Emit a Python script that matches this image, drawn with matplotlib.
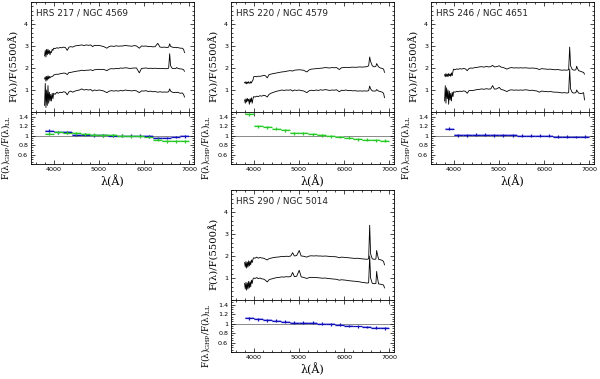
import matplotlib
matplotlib.use("Agg")
import matplotlib.pyplot as plt
from matplotlib.ticker import MultipleLocator, FixedLocator
import numpy as np

plt.rcParams['mathtext.fontset'] = 'dejavuserif'

# ---------------- data ----------------
titles = ["HRS 217 / NGC 4569", "HRS 220 / NGC 4579", "HRS 246 / NGC 4651", "HRS 290 / NGC 5014"]

wave = [3800, 3815, 3830, 3845, 3860, 3875, 3890, 3905, 3920, 3935, 3950, 3968, 3985, 4000,
        4030, 4070, 4100, 4140, 4180, 4220, 4260, 4300, 4340, 4380, 4420, 4470, 4520, 4570,
        4620, 4670, 4720, 4770, 4820, 4861, 4900, 4950, 5007, 5050, 5100, 5175, 5230, 5280,
        5330, 5380, 5430, 5480, 5530, 5580, 5630, 5680, 5730, 5780, 5830, 5893, 5940, 5990,
        6040, 6090, 6140, 6190, 6240, 6300, 6350, 6400, 6450, 6500, 6540, 6563, 6583, 6620,
        6660, 6700, 6717, 6731, 6760, 6800, 6840, 6870, 6890]

# HRS 217 spectra (offsets included)
p1_top = [2.55, 2.8, 2.5, 2.85, 2.6, 2.85, 2.65, 2.8, 2.6, 2.75, 2.7, 2.85, 2.8, 2.9,
          2.88, 2.92, 2.9, 2.93, 2.92, 2.95, 2.93, 2.8, 2.95, 2.97, 2.95, 3.0, 3.02, 3.03,
          3.05, 3.02, 3.05, 3.03, 3.05, 2.97, 3.03, 3.02, 3.03, 3.0, 2.98, 2.9, 2.98, 3.0,
          2.98, 3.01, 2.99, 3.0, 3.0, 3.03, 3.01, 3.0, 2.99, 3.02, 3.0, 2.9, 3.0, 2.99,
          3.0, 2.97, 2.98, 2.96, 2.97, 3.12, 2.95, 2.94, 2.95, 2.93, 2.95, 3.1, 2.98, 2.95,
          2.93, 2.94, 2.92, 2.93, 2.92, 2.9, 2.9, 2.85, 2.7]
p1_mid = [1.5, 1.6, 1.4, 1.62, 1.45, 1.65, 1.5, 1.62, 1.55, 1.6, 1.6, 1.62, 1.63, 1.68,
          1.7, 1.72, 1.71, 1.74, 1.75, 1.77, 1.76, 1.7, 1.8, 1.8, 1.82, 1.84, 1.86, 1.87,
          1.9, 1.88, 1.9, 1.9, 1.92, 1.88, 1.92, 1.93, 1.94, 1.93, 1.94, 1.88, 1.95, 1.97,
          1.96, 1.98, 1.97, 2.0, 1.99, 2.01, 2.0, 1.98, 1.99, 2.0, 2.0, 1.78, 1.98, 1.99,
          2.0, 1.98, 1.99, 1.98, 1.99, 1.98, 1.97, 1.98, 1.97, 1.97, 1.99, 2.65, 2.1, 1.98,
          1.97, 1.98, 2.02, 2.0, 1.97, 1.96, 1.95, 1.92, 1.85]
p1_bot = [0.3, 1.3, 0.2, 1.0, 0.3, 1.2, 0.4, 0.9, 0.5, 0.8, 0.5, 0.85, 0.6, 0.85,
          0.8, 0.9, 0.85, 0.9, 0.88, 0.92, 0.9, 0.78, 0.92, 0.95, 0.9, 0.95, 0.98, 1.0,
          1.05, 1.0, 1.02, 1.0, 1.02, 0.95, 1.0, 0.98, 1.0, 0.98, 0.96, 0.88, 0.95, 0.97,
          0.95, 0.97, 0.95, 0.98, 0.96, 1.0, 0.98, 0.97, 0.96, 0.98, 0.96, 0.88, 0.96, 0.95,
          0.97, 0.93, 0.95, 0.92, 0.93, 0.9, 0.92, 0.9, 0.91, 0.9, 0.92, 1.05, 0.95, 0.9,
          0.88, 0.9, 0.88, 0.9, 0.88, 0.85, 0.87, 0.8, 0.68]

# HRS 220 spectra
p2_top = [1.35, 1.3, 1.38, 1.28, 1.36, 1.3, 1.38, 1.32, 1.3, 1.38, 1.32, 1.4, 1.45, 1.6,
          1.62, 1.6, 1.63, 1.62, 1.64, 1.66, 1.65, 1.55, 1.7, 1.72, 1.74, 1.76, 1.78, 1.8,
          1.82, 1.83, 1.85, 1.87, 1.88, 1.86, 1.9, 1.91, 1.92, 1.91, 1.9, 1.82, 1.92, 1.95,
          1.96, 1.97, 1.98, 1.99, 2.0, 2.02, 2.01, 2.0, 2.02, 2.01, 2.02, 1.93, 2.01, 2.02,
          2.03, 2.02, 2.03, 2.04, 2.03, 2.04, 2.05, 2.04, 2.05, 2.06, 2.1, 2.5, 2.3, 2.1,
          2.05, 2.08, 2.2, 2.15, 2.05, 2.0, 1.98, 1.95, 1.8]
p2_bot = [0.55, 0.4, 0.6, 0.45, 0.62, 0.5, 0.58, 0.35, 0.6, 0.45, 0.65, 0.4, 0.6, 0.7,
          0.68, 0.72, 0.7, 0.74, 0.72, 0.76, 0.74, 0.68, 0.8, 0.85, 0.88, 0.92, 0.95, 0.97,
          1.0, 0.98, 1.0, 0.99, 1.01, 0.95, 1.0, 0.98, 1.0, 0.97, 0.96, 0.88, 0.97, 0.99,
          0.97, 1.0, 0.98, 1.01, 0.99, 1.02, 1.0, 0.98, 1.0, 0.99, 1.01, 0.92, 0.99, 0.98,
          1.0, 0.97, 0.98, 0.96, 0.97, 0.95, 0.96, 0.95, 0.96, 0.95, 0.97, 1.18, 1.05, 0.96,
          0.95, 0.96, 1.02, 1.0, 0.95, 0.93, 0.9, 0.85, 0.65]

# HRS 246 spectra
p3_top = [1.7, 1.6, 1.75, 1.62, 1.72, 1.6, 1.75, 1.65, 1.72, 1.62, 1.78, 1.65, 1.85, 1.95,
          1.92, 1.96, 1.94, 1.97, 1.95, 1.98, 1.96, 1.88, 1.98, 2.0, 1.99, 2.02, 2.03, 2.05,
          2.06, 2.04, 2.07, 2.05, 2.06, 2.12, 2.05, 2.06, 2.1, 2.04, 2.02, 1.95, 2.0, 2.02,
          2.0, 2.01, 2.0, 2.01, 2.0, 2.01, 2.0, 1.99, 2.0, 1.99, 1.98, 1.93, 1.97, 1.96,
          1.95, 1.94, 1.95, 1.93, 1.92, 1.93, 1.91, 1.9, 1.91, 1.9, 1.92, 2.95, 2.1, 1.93,
          1.9, 1.92, 2.08, 2.0, 1.88, 1.85, 1.82, 1.8, 1.72]
p3_bot = [0.5, 1.2, 0.4, 1.1, 0.6, 1.0, 0.35, 0.95, 0.55, 0.85, 0.5, 0.9, 0.7, 0.92,
          0.9, 0.94, 0.92, 0.95, 0.93, 0.96, 0.94, 0.85, 0.97, 0.98, 0.97, 1.0, 1.02, 1.03,
          1.05, 1.03, 1.06, 1.04, 1.05, 1.2, 1.04, 1.05, 1.12, 1.02, 1.0, 0.93, 0.99, 1.01,
          0.99, 1.0, 0.99, 1.0, 0.99, 1.01, 1.0, 0.98, 0.99, 0.97, 0.96, 0.9, 0.95, 0.94,
          0.93, 0.92, 0.93, 0.91, 0.9, 0.9, 0.88, 0.87, 0.88, 0.86, 0.88, 1.95, 1.05, 0.88,
          0.86, 0.88, 1.0, 0.95, 0.86, 0.84, 0.85, 0.88, 0.55]

# HRS 290 spectra
p4_top = [1.7, 1.5, 1.75, 1.45, 1.72, 1.5, 1.78, 1.55, 1.75, 1.6, 1.82, 1.7, 1.85, 1.92,
          1.9, 1.95, 1.9, 1.93, 1.91, 1.9, 1.86, 1.82, 1.88, 1.9, 1.92, 1.94, 1.95, 1.96,
          1.98, 1.97, 1.99, 1.98, 2.0, 2.15, 2.0, 2.02, 2.25, 2.0, 1.99, 1.95, 2.0, 2.01,
          2.0, 2.01, 2.0, 2.0, 1.99, 2.0, 1.99, 1.98, 1.97, 1.97, 1.96, 1.92, 1.95, 1.94,
          1.93, 1.92, 1.91, 1.9, 1.89, 1.9, 1.88, 1.87, 1.86, 1.85, 1.87, 3.4, 2.1, 1.87,
          1.85, 1.86, 2.25, 2.1, 1.85, 1.83, 1.8, 1.75, 1.6]
p4_bot = [0.75, 0.5, 0.8, 0.45, 0.78, 0.5, 0.85, 0.55, 0.82, 0.6, 0.9, 0.75, 0.95, 1.0,
          0.98, 1.02, 0.97, 1.0, 0.96, 0.95, 0.9, 0.82, 0.92, 0.95, 0.97, 1.0, 1.02, 1.03,
          1.05, 1.04, 1.06, 1.05, 1.07, 1.25, 1.06, 1.08, 1.35, 1.05, 1.03, 0.98, 1.02, 1.03,
          1.02, 1.02, 1.01, 1.0, 0.99, 1.0, 0.98, 0.97, 0.96, 0.95, 0.94, 0.9, 0.92, 0.91,
          0.9, 0.88, 0.87, 0.86, 0.85, 0.84, 0.82, 0.8, 0.79, 0.77, 0.78, 2.0, 1.0, 0.76,
          0.74, 0.75, 1.3, 1.05, 0.73, 0.72, 0.7, 0.68, 0.55]

# ratio bins (centres, 200 A wide)
bin_centres = [3900, 4100, 4300, 4500, 4700, 4900, 5100, 5300, 5500, 5700, 5900, 6100, 6300, 6500, 6700, 6900]
r1_blue = [1.10, 1.07, 1.07, 1.02, 1.02, 1.01, 1.01, 1.00, 1.00, 1.00, 1.00, 0.99, 0.95, 0.95, 0.97, 0.99]
r1_green = [1.04, 1.07, 1.06, 1.05, 1.03, 1.02, 1.01, 1.01, 1.00, 0.99, 0.99, 0.97, 0.91, 0.88, 0.88, 0.88]
r2_green = [1.45, 1.20, 1.18, 1.15, 1.11, 1.05, 1.05, 1.03, 1.01, 0.99, 0.97, 0.96, 0.92, 0.91, 0.90, 0.89]
r3_blue = [1.15, 1.01, 1.01, 1.02, 1.02, 1.01, 1.01, 1.01, 1.00, 1.00, 1.00, 1.00, 0.98, 0.98, 0.97, 0.98]
r4_blue = [1.11, 1.09, 1.07, 1.06, 1.04, 1.02, 1.02, 1.02, 1.00, 0.99, 0.98, 0.95, 0.94, 0.93, 0.91, 0.90]
ratio_err = 0.03
band_err = 0.02

BLUE = '#1010b8'
BLUE_L = '#8c8cf0'
GREEN = '#28c828'
GREEN_L = '#9cf59c'

# ---------------- figure ----------------
W, H = 600, 379
fig = plt.figure(figsize=(6.0, 3.79), dpi=100)

TICK_FS = 4.6
LAB_FS = 7.2


def style(ax):
    ax.tick_params(which='both', direction='in', top=True, right=True,
                   labelsize=TICK_FS, width=0.5, pad=2)
    ax.tick_params(which='major', length=3)
    ax.tick_params(which='minor', length=1.5)
    for s in ax.spines.values():
        s.set_linewidth(0.6)
    for t in ax.get_xticklabels() + ax.get_yticklabels():
        t.set_family('DejaVu Sans')


def panel(left_px, top_px, title, spectra, ratios):
    h_top, h_bot = 110, 52
    w = 163
    ax1 = fig.add_axes([left_px / W, 1 - (top_px + h_top) / H, w / W, h_top / H])
    ax2 = fig.add_axes([left_px / W, 1 - (top_px + h_top + h_bot) / H, w / W, h_bot / H])
    for s in spectra:
        ax1.plot(wave, s, color='black', lw=0.6)
    ax1.set_xlim(3500, 7100)
    ax1.set_ylim(0, 5)
    ax1.xaxis.set_major_locator(MultipleLocator(1000))
    ax1.xaxis.set_minor_locator(MultipleLocator(200))
    ax1.yaxis.set_major_locator(FixedLocator([1, 2, 3, 4]))
    ax1.yaxis.set_minor_locator(MultipleLocator(0.2))
    ax1.set_yticklabels(['1', '2', '3', '4'])
    ax1.tick_params(labelbottom=False)
    style(ax1)
    ax1.text(0.03, 0.9, title, transform=ax1.transAxes, fontsize=6.4,
             family='DejaVu Sans', ha='left', va='center', color='#222222')
    ax1.set_ylabel('F(λ)/F(5500Å)', fontsize=LAB_FS, family='DejaVu Serif')
    ax1.yaxis.set_label_coords(-0.075, 0.42)

    ax2.axhline(1.0, color='#777777', lw=0.6, zorder=1)
    for vals, col, lcol in ratios:
        ax2.bar(bin_centres, [2 * band_err] * len(vals), width=200,
                bottom=[v - band_err for v in vals], color=lcol, alpha=0.6,
                linewidth=0, zorder=2)
        ax2.errorbar(bin_centres, vals, xerr=100, yerr=ratio_err, fmt='none',
                     ecolor=col, elinewidth=0.9, capsize=0, zorder=3)
    ax2.set_xlim(3500, 7100)
    ax2.set_ylim(0.4, 1.5)
    ax2.xaxis.set_major_locator(MultipleLocator(1000))
    ax2.xaxis.set_minor_locator(MultipleLocator(200))
    ax2.yaxis.set_major_locator(FixedLocator([0.6, 0.8, 1.0, 1.2, 1.4]))
    ax2.yaxis.set_minor_locator(MultipleLocator(0.05))
    ax2.set_yticklabels(['0.6', '0.8', '1', '1.2', '1.4'])
    style(ax2)
    ax2.set_xlabel('λ(Å)', fontsize=LAB_FS + 0.8, family='DejaVu Serif')
    ax2.xaxis.set_label_coords(0.5, -0.2)
    ax2.set_ylabel(r'F(λ)$_{\rm GHP}$/F(λ)$_{\rm LL}$', fontsize=6.3,
                   family='DejaVu Serif')
    ax2.yaxis.set_label_coords(-0.115, 0.32)


panel(31, 2, titles[0], [p1_top, p1_mid, p1_bot],
      [(r1_blue, BLUE, BLUE_L), (r1_green, GREEN, GREEN_L)])
panel(231, 2, titles[1], [p2_top, p2_bot], [(r2_green, GREEN, GREEN_L)])
panel(431, 2, titles[2], [p3_top, p3_bot], [(r3_blue, BLUE, BLUE_L)])
panel(231, 190, titles[3], [p4_top, p4_bot], [(r4_blue, BLUE, BLUE_L)])

fig.savefig('out.png', dpi=100)
